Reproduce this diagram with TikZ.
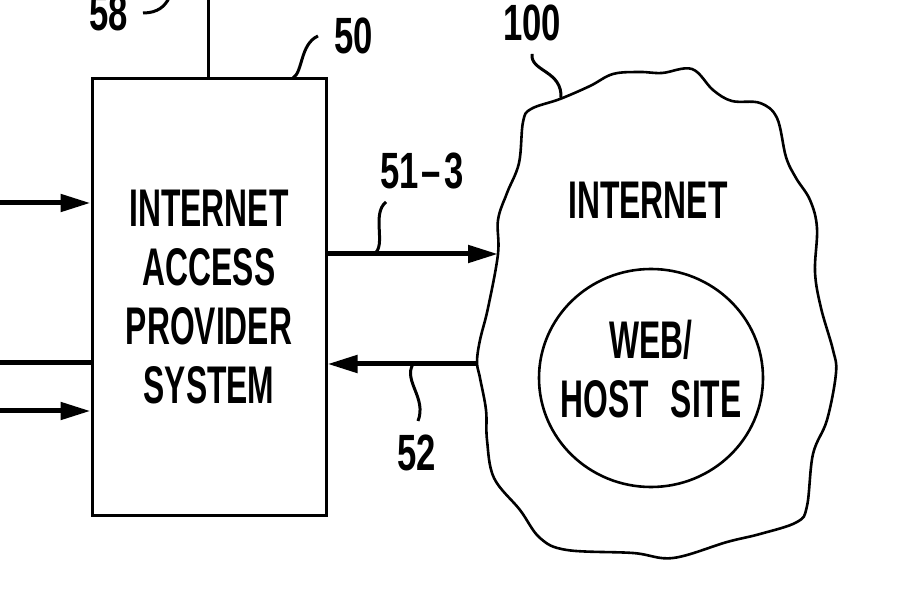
\documentclass[tikz,border=0pt]{standalone}
\usepackage{fontspec}
\setmainfont{Liberation Sans}[FakeStretch=0.6]
\newfontfamily\numfont{Liberation Sans}[FakeStretch=0.68]
\usetikzlibrary{arrows.meta,shapes.geometric}

\begin{document}
\begin{tikzpicture}[x=1pt,y=-1pt]
                    \tikzset{every node/.style={inner sep=0pt, font=\fontsize{53}{59}\selectfont\bfseries}}
                    \tikzset{refnum/.style={font=\fontsize{51}{59}\selectfont\numfont\bfseries}}
                    \tikzset{signal/.style={line width=5pt, -{Triangle[length=30pt,width=17pt]}}}
                    \tikzset{feed/.style={line width=5pt}}
                    \tikzset{leader/.style={line width=3pt}}
                    \useasboundingbox (0,0) rectangle (913,609);
                    % access provider box
                    \node[draw, line width=3pt, minimum width=234pt, minimum height=436pt, align=center]
                        (iap) at (209,297) {INTERNET\\ACCESS\\PROVIDER\\SYSTEM};
                    % internet cloud
                    \draw[line width=2.6pt] plot[smooth cycle, tension=0.6] coordinates {
                        (560,99) (590,86) (613,74) (640,72) (662,73) (692,69) (713,90) (732,101)
                        (760,103) (777,118) (786,157) (796,178) (810,200) (817,228) (815,272)
                        (821,308) (833,350) (836,373) (827,420) (813,454) (807,506) (797,522)
                        (760,534) (727,542) (673,558) (633,553) (567,550) (540,538) (520,510)
                        (494,478) (487,440) (486,410) (480,378) (477,362) (480,340) (488,308)
                        (498,254) (498,220) (507,193) (519,163) (523,122) (531,109)};
                    \coordinate (cloudin) at (498,254);
                    \coordinate (cloudout) at (478,364);
                    \node (inet) at (648,200) {INTERNET};
                    \node[draw, ellipse, line width=2.6pt, minimum width=224pt, minimum height=218pt] (site) at (651,378) {};
                    \node[align=center] (sitetext) at (651,369) {WEB/\\HOST\hspace{22pt}SITE};
                    % links
                    \coordinate (in1) at (0,203);
                    \coordinate (in2) at (0,363);
                    \coordinate (in3) at (0,411);
                    \draw[signal] (in1) -- (iap.west |- in1);
                    \draw[feed] (in2) -- (iap.west |- in2);
                    \draw[signal] (in3) -- (iap.west |- in3);
                    \coordinate (up58) at (208,0);
                    \draw[leader] (iap.north -| up58) -- (up58);
                    \draw[signal] (iap.east |- cloudin) -- (cloudin);
                    \draw[signal] (cloudout) -- (iap.east |- cloudout);
                    % reference numerals
                    \node[refnum] (n58) at (109,13) {58};
                    \node[refnum] (n50) at (354,36) {50};
                    \node[refnum] (n100) at (532,23) {100};
                    \node[refnum] (n513) at (422,171) {51\hspace{3pt}\textendash\hspace{3pt}3};
                    \node[refnum] (n52) at (417,453) {52};
                    \coordinate (t58) at (143,13);
                    \coordinate (t50) at (293,78);
                    \coordinate (t100) at (561,99);
                    \coordinate (t513) at (374,254);
                    \coordinate (t52) at (413,364);
                    \draw[leader] (t58) .. controls (158,13) and (165,6) .. (169,-2);
                    \draw[leader] (t50) .. controls (303,72) and (300,44) .. (318,36);
                    \draw[leader] (532,54) .. controls (530,72) and (563,70) .. (t100);
                    \draw[leader] (t513) .. controls (387,246) and (371,214) .. (386,202);
                    \draw[leader] (t52) .. controls (403,381) and (427,398) .. (418,421);
                    \end{tikzpicture}
\end{document}
